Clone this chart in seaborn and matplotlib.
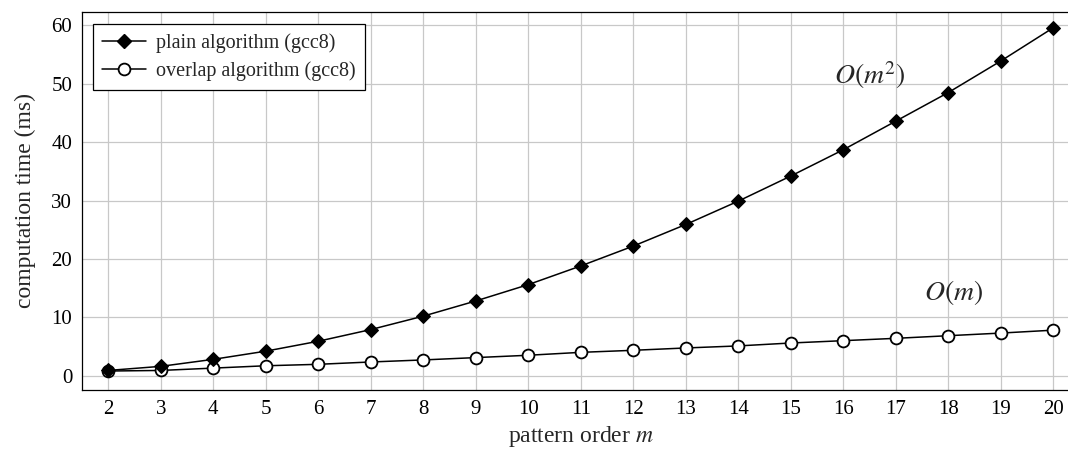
import numpy as np
import pandas as pd
import matplotlib
matplotlib.use("Agg")
import matplotlib.pyplot as plt
import seaborn as sns
from matplotlib.lines import Line2D

#------------------------------------------------------------------------
# values
order = list(range(2, 21))
plainTime = [0.9, 1.6, 2.8, 4.2, 5.9, 7.9, 10.2, 12.8, 15.6, 18.8,
             22.2, 25.9, 29.9, 34.2, 38.7, 43.6, 48.5, 53.9, 59.6]
overlapTime = [0.8, 0.9, 1.3, 1.7, 1.95, 2.35, 2.7, 3.1, 3.5, 4.0,
               4.35, 4.75, 5.1, 5.6, 6.0, 6.4, 6.85, 7.3, 7.8]
seriesNames = ['plain algorithm (gcc8)', 'overlap algorithm (gcc8)']

df = pd.DataFrame({
    'm': order * 2,
    'time': plainTime + overlapTime,
    'series': [seriesNames[0]] * len(order) + [seriesNames[1]] * len(order),
})

#------------------------------------------------------------------------
sns.set_style("whitegrid")
plt.rcParams['font.family'] = ['Liberation Serif', 'DejaVu Serif']
plt.rcParams['mathtext.fontset'] = 'stix'

fig = plt.figure(figsize=(10.68, 4.54), dpi=100)
ax = fig.add_axes([82 / 1068, 64 / 454, 997.5 / 1068, 378 / 454])

sns.lineplot(data=df, x='m', y='time', hue='series', style='series',
             palette=['black', 'black'], markers=['D', 'o'], dashes=False,
             linewidth=1.1, ax=ax, legend=False)
# marker styling per series
lines = ax.get_lines()
lines[0].set_markersize(7)
lines[0].set_markerfacecolor('black')
lines[0].set_markeredgecolor('black')
lines[0].set_zorder(4)
lines[1].set_markersize(8.5)
lines[1].set_markerfacecolor('white')
lines[1].set_markeredgecolor('black')
lines[1].set_markeredgewidth(1.3)
lines[1].set_zorder(3)

ax.set_xlim(1.5, 20.5)
ax.set_ylim(-2.45, 62.3)
ax.set_xticks(order)
ax.set_yticks(range(0, 61, 10))
ax.grid(True, color='#c8c8c8', linewidth=0.9)
for s in ax.spines.values():
    s.set_color('black')
    s.set_linewidth(0.9)
ax.tick_params(axis='both', labelsize=15, colors='black', direction='in',
               length=4, width=0.8, pad=7)
ax.tick_params(axis='both', color='#555555')

ax.set_xlabel('pattern order $m$', fontsize=17, labelpad=4)
ax.set_ylabel('computation time (ms)', fontsize=17, labelpad=11)

ax.text(16.5, 51.5, '$O(m^2)$', fontsize=20, ha='center', va='center')
ax.text(18.1, 14.2, '$O(m)$', fontsize=20, ha='center', va='center')

handles = [Line2D([], [], color='black', marker='D', markersize=7, lw=1.1),
           Line2D([], [], color='black', marker='o', markersize=8.5, lw=1.1,
                  markerfacecolor='white', markeredgewidth=1.3)]
leg = ax.legend(handles, seriesNames, loc='upper left', fontsize=14.5,
                bbox_to_anchor=(0.011, 0.968), borderaxespad=0,
                frameon=True, fancybox=False,
                edgecolor='black', framealpha=1, borderpad=0.45,
                handlelength=2.2, handletextpad=0.5, labelspacing=0.4)
leg.get_frame().set_linewidth(0.9)

fig.savefig('out.png', dpi=100)
print("done")
